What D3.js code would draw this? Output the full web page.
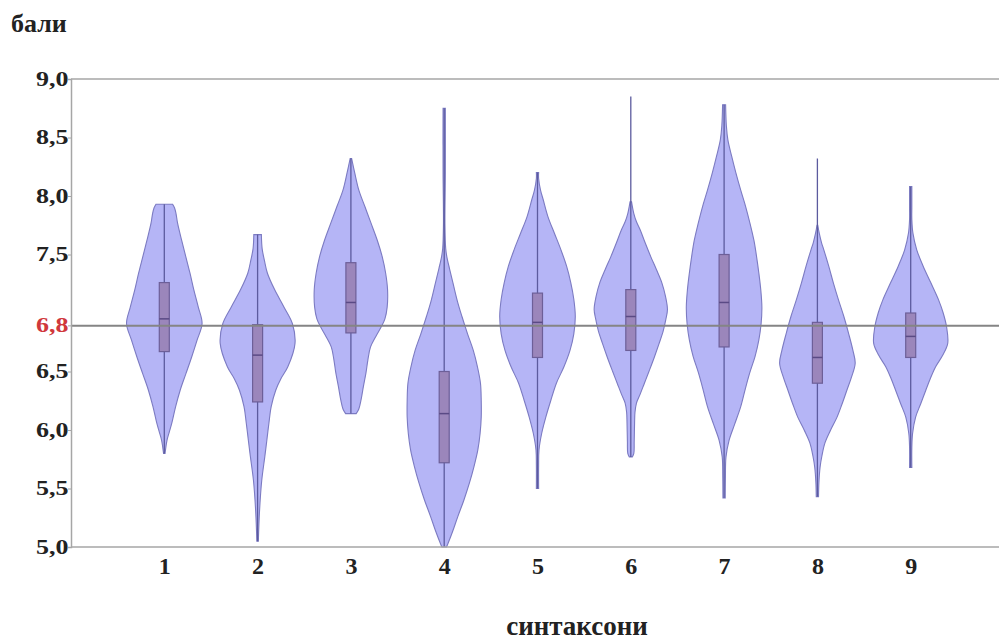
<!DOCTYPE html>
<html>
<head>
<meta charset="utf-8">
<script src="https://cdn.jsdelivr.net/npm/d3@7"></script>
<style>
  body { margin: 0; background: #fff; }
  svg { display: block; }
  text { font-family: "Liberation Serif", "Times New Roman", serif; font-weight: bold; }
</style>
</head>
<body>
<svg id="chart" width="999" height="642"></svg>
<script>
// Syntaxon groups along the x axis
const categories = ["1", "2", "3", "4", "5", "6", "7", "8", "9"];

// Box-plot summary per syntaxon (score units)
const whiskerLow  = [5.80, 5.05, 6.14, 5.00, 5.50, 5.77, 5.42, 5.43, 5.68];
const quartile1   = [6.67, 6.24, 6.83, 5.72, 6.62, 6.68, 6.71, 6.40, 6.62];
const medians     = [6.95, 6.64, 7.09, 6.14, 6.92, 6.97, 7.09, 6.62, 6.80];
const quartile3   = [7.26, 6.90, 7.43, 6.50, 7.17, 7.20, 7.50, 6.92, 7.00];
const whiskerHigh = [7.93, 7.67, 8.32, 8.75, 8.20, 8.85, 8.78, 8.32, 8.08];

// Density outline per syntaxon: [score, relative half-width]
const density1 = [[7.93,0.22],[7.90,0.27],[7.85,0.31],[7.77,0.35],[7.62,0.46],[7.48,0.57],[7.34,0.68],[7.20,0.78],[7.05,0.9],[6.91,1.0],[6.77,0.87],[6.62,0.72],[6.48,0.57],[6.34,0.42],[6.20,0.3],[6.06,0.2],[5.98,0.13],[5.91,0.07],[5.80,0.02]];
const density2 = [[7.67,0.1],[7.55,0.12],[7.45,0.18],[7.34,0.26],[7.20,0.45],[7.05,0.7],[6.91,0.92],[6.74,0.99],[6.54,0.8],[6.44,0.62],[6.34,0.48],[6.20,0.36],[6.06,0.3],[5.90,0.24],[5.77,0.19],[5.57,0.11],[5.30,0.05],[5.05,0.02]];
const density3 = [[8.32,0.02],[8.20,0.1],[8.05,0.21],[7.91,0.37],[7.77,0.53],[7.62,0.7],[7.48,0.83],[7.34,0.92],[7.20,0.97],[7.05,0.96],[6.95,0.9],[6.88,0.8],[6.80,0.66],[6.71,0.52],[6.60,0.45],[6.49,0.4],[6.37,0.33],[6.26,0.27],[6.18,0.21],[6.14,0.14]];
const density4 = [[8.75,0.03],[8.2,0.03],[7.75,0.02],[7.55,0.04],[7.48,0.07],[7.38,0.14],[7.26,0.23],[7.10,0.35],[6.97,0.47],[6.82,0.62],[6.68,0.77],[6.54,0.88],[6.40,0.96],[6.25,0.98],[6.11,0.98],[5.97,0.95],[5.83,0.89],[5.69,0.79],[5.55,0.67],[5.40,0.52],[5.26,0.36],[5.13,0.22],[5.03,0.1],[5.00,0.06]];
const density5 = [[8.20,0.03],[8.15,0.03],[8.05,0.08],[7.97,0.15],[7.82,0.28],[7.68,0.45],[7.54,0.62],[7.40,0.77],[7.26,0.88],[7.12,0.96],[6.97,1.0],[6.82,0.96],[6.68,0.86],[6.54,0.7],[6.40,0.5],[6.25,0.35],[6.11,0.22],[5.97,0.11],[5.83,0.04],[5.70,0.03],[5.50,0.03]];
const density6 = [[7.95,0.02],[7.85,0.08],[7.78,0.15],[7.71,0.25],[7.60,0.38],[7.48,0.53],[7.37,0.68],[7.26,0.82],[7.14,0.92],[7.03,0.97],[6.95,0.93],[6.85,0.86],[6.74,0.75],[6.62,0.62],[6.50,0.48],[6.40,0.36],[6.30,0.24],[6.23,0.15],[6.15,0.11],[6.06,0.1],[5.90,0.09],[5.80,0.08],[5.77,0.04]];
const density7 = [[8.78,0.04],[8.60,0.06],[8.48,0.1],[8.34,0.2],[8.20,0.31],[8.05,0.44],[7.91,0.57],[7.76,0.69],[7.62,0.79],[7.48,0.86],[7.34,0.92],[7.20,0.97],[7.05,1.0],[6.91,0.98],[6.77,0.92],[6.63,0.82],[6.49,0.68],[6.35,0.56],[6.20,0.44],[6.05,0.28],[5.91,0.13],[5.77,0.05],[5.60,0.035],[5.42,0.03]];
const density8 = [[7.75,0.01],[7.68,0.05],[7.60,0.11],[7.54,0.17],[7.40,0.3],[7.26,0.42],[7.11,0.56],[6.97,0.7],[6.82,0.83],[6.68,0.94],[6.57,1.0],[6.45,0.9],[6.34,0.78],[6.22,0.65],[6.11,0.52],[6.00,0.35],[5.89,0.2],[5.78,0.12],[5.68,0.07],[5.55,0.04],[5.43,0.03]];
const density9 = [[8.08,0.03],[7.90,0.03],[7.80,0.03],[7.68,0.06],[7.54,0.16],[7.40,0.33],[7.26,0.53],[7.11,0.74],[7.00,0.86],[6.88,0.95],[6.74,0.98],[6.64,0.85],[6.54,0.66],[6.44,0.52],[6.34,0.4],[6.22,0.26],[6.11,0.13],[5.97,0.05],[5.85,0.03],[5.68,0.03]];
const densities = [density1, density2, density3, density4, density5, density6, density7, density8, density9];

// Axis ticks and the overall reference level
const yTickValues = [5.0, 5.5, 6.0, 6.5, 7.5, 8.0, 8.5, 9.0];
const referenceValue = 6.89;

const yTitle = "бали";
const xTitle = "синтаксони";

const width = 999, height = 642;
const margin = { left: 71, right: -5, top: 79, bottom: 95 };

const svg = d3.select("#chart");
svg.append("rect").attr("width", width).attr("height", height).attr("fill", "#fff");

const x = d3.scalePoint()
  .domain(categories)
  .range([margin.left, width - margin.right])
  .padding(1);

const y = d3.scaleLinear()
  .domain([5, 9])
  .range([height - margin.bottom, margin.top]);

const halfWidth = d3.scaleLinear().domain([0, 1]).range([0, x.step() * 0.405]);

const comma = d3.formatLocale({ decimal: ",", thousands: " ", grouping: [3], currency: ["", ""] });
const fmt = comma.format(".1f");
// reference label shows the level truncated to one decimal
const refLabel = fmt(Math.floor(referenceValue * 10) / 10);

// y tick labels are drawn in a horizontally widened face
const labelStretch = 1.3;

// frame: top border
svg.append("line")
  .attr("x1", margin.left).attr("x2", width)
  .attr("y1", y(9)).attr("y2", y(9))
  .attr("stroke", "#a6a6a6").attr("stroke-width", 1.5);

// violins
const area = d3.area()
  .curve(d3.curveCatmullRom.alpha(0.5))
  .y(d => y(d[0]));

const groups = svg.append("g").selectAll("g")
  .data(categories)
  .join("g");

groups.append("path")
  .attr("d", (c, i) => {
    const cx = x(c);
    return area.x0(d => cx - halfWidth(d[1])).x1(d => cx + halfWidth(d[1]))(densities[i]);
  })
  .attr("fill", "#b5b5f6")
  .attr("stroke", "#7c7bc2")
  .attr("stroke-width", 1.1);

// whiskers
groups.append("line")
  .attr("x1", c => x(c)).attr("x2", c => x(c))
  .attr("y1", (c, i) => y(whiskerHigh[i]))
  .attr("y2", (c, i) => y(whiskerLow[i]))
  .attr("stroke", "#5c5b9e")
  .attr("stroke-width", 1.3);

// interquartile boxes
const boxHalf = 5;
groups.append("rect")
  .attr("x", c => x(c) - boxHalf)
  .attr("width", boxHalf * 2)
  .attr("y", (c, i) => y(quartile3[i]))
  .attr("height", (c, i) => y(quartile1[i]) - y(quartile3[i]))
  .attr("fill", "#9b86bb")
  .attr("stroke", "#6d5f98")
  .attr("stroke-width", 1.2);

// medians
groups.append("line")
  .attr("x1", c => x(c) - boxHalf).attr("x2", c => x(c) + boxHalf)
  .attr("y1", (c, i) => y(medians[i])).attr("y2", (c, i) => y(medians[i]))
  .attr("stroke", "#5a4a85")
  .attr("stroke-width", 1.5);

// reference level line
svg.append("line")
  .attr("x1", margin.left).attr("x2", width)
  .attr("y1", y(referenceValue)).attr("y2", y(referenceValue))
  .attr("stroke", "#858585").attr("stroke-width", 2);

// y axis
const yAxis = svg.append("g")
  .attr("transform", `translate(${margin.left},0)`)
  .call(d3.axisLeft(y).tickValues(yTickValues).tickFormat(fmt).tickSize(3).tickPadding(0));
yAxis.select(".domain").attr("stroke", "#a6a6a6").attr("stroke-width", 1.5);
yAxis.selectAll(".tick line").attr("stroke", "#a6a6a6");
yAxis.selectAll(".tick text")
  .attr("font-size", 20).attr("fill", "#222")
  .attr("font-family", "Liberation Serif").attr("font-weight", "bold")
  .attr("x", -2.5 / labelStretch)
  .attr("transform", `scale(${labelStretch},1)`);

// reference label on the y axis
svg.append("line")
  .attr("x1", margin.left - 3).attr("x2", margin.left)
  .attr("y1", y(referenceValue)).attr("y2", y(referenceValue))
  .attr("stroke", "#a6a6a6");
svg.append("g")
  .attr("transform", `translate(${margin.left},${y(referenceValue)})`)
  .append("text")
  .attr("x", -2.5 / labelStretch)
  .attr("dy", "0.32em")
  .attr("transform", `scale(${labelStretch},1)`)
  .attr("text-anchor", "end")
  .attr("font-size", 20)
  .attr("fill", "#d0383c")
  .text(refLabel);

// x axis
const xAxis = svg.append("g")
  .attr("transform", `translate(0,${y(5)})`)
  .call(d3.axisBottom(x).tickSize(0).tickPadding(10));
xAxis.select(".domain").attr("d", `M${margin.left},0H${width}`).attr("stroke", "#a6a6a6").attr("stroke-width", 1.5);
xAxis.selectAll(".tick text").attr("font-size", 24).attr("fill", "#222")
  .attr("font-family", "Liberation Serif").attr("font-weight", "bold");

// axis titles
svg.append("text")
  .attr("x", 11).attr("y", 32)
  .attr("font-size", 26).attr("fill", "#222")
  .text(yTitle);

svg.append("text")
  .attr("x", 577).attr("y", 635)
  .attr("text-anchor", "middle")
  .attr("font-size", 27).attr("fill", "#222")
  .text(xTitle);
</script>
</body>
</html>
